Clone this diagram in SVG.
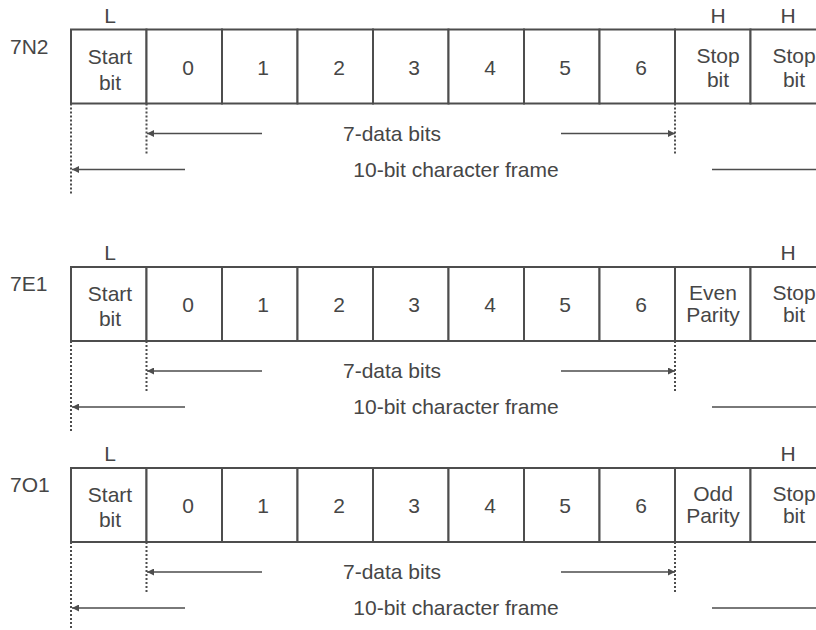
<svg xmlns="http://www.w3.org/2000/svg" width="816" height="630" viewBox="0 0 816 630">
<style>
text{font-family:"Liberation Sans",Arial,sans-serif;font-size:21px;fill:#464646;text-anchor:middle}
.lab{text-anchor:start}
.cell{fill:#fff;stroke:#4d4d4d;stroke-width:2}
.ln{stroke:#4d4d4d;stroke-width:1.5;fill:none}
.dot{stroke:#4d4d4d;stroke-width:2;stroke-dasharray:2 2;fill:none}
</style>
<defs>
<marker id="ah" viewBox="0 0 10 10" refX="10" refY="5" markerWidth="7" markerHeight="7" markerUnits="userSpaceOnUse" orient="auto-start-reverse">
<path d="M0,0 L10,5 L0,10 z" fill="#4d4d4d"/>
</marker>
</defs>
<rect width="816" height="630" fill="#fff"/>

<!-- Frame 7N2 -->
<g id="frame-7N2" transform="translate(0,29.5)">
<text class="lab" x="10" y="24">7N2</text>
<text x="110" y="-7">L</text>
<text x="718" y="-7">H</text>
<text x="788" y="-7">H</text>
<g id="f1-start"><rect class="cell" x="71" y="0" width="75.5" height="74"/><text x="110" y="34">Start</text><text x="110" y="60">bit</text></g>
<g id="f1-b0"><rect class="cell" x="146.5" y="0" width="75.5" height="74"/><text x="188" y="45">0</text></g>
<g id="f1-b1"><rect class="cell" x="222" y="0" width="75.5" height="74"/><text x="263" y="45">1</text></g>
<g id="f1-b2"><rect class="cell" x="297.5" y="0" width="75.5" height="74"/><text x="339" y="45">2</text></g>
<g id="f1-b3"><rect class="cell" x="373" y="0" width="75.5" height="74"/><text x="414" y="45">3</text></g>
<g id="f1-b4"><rect class="cell" x="448.5" y="0" width="75.5" height="74"/><text x="490" y="45">4</text></g>
<g id="f1-b5"><rect class="cell" x="524" y="0" width="75.5" height="74"/><text x="565" y="45">5</text></g>
<g id="f1-b6"><rect class="cell" x="599.5" y="0" width="75.5" height="74"/><text x="641" y="45">6</text></g>
<g id="f1-stop1"><rect class="cell" x="675" y="0" width="75.5" height="74"/><text x="718" y="33">Stop</text><text x="718" y="57">bit</text></g>
<g id="f1-stop2"><rect class="cell" x="750.5" y="0" width="75.5" height="74"/><text x="794" y="33">Stop</text><text x="794" y="57">bit</text></g>
<text x="392" y="111">7-data bits</text>
<text x="456" y="147">10-bit character frame</text>
</g>

<!-- Frame 7E1 -->
<g id="frame-7E1" transform="translate(0,267)">
<text class="lab" x="10" y="24">7E1</text>
<text x="110" y="-7">L</text>
<text x="788" y="-7">H</text>
<g id="f2-start"><rect class="cell" x="71" y="0" width="75.5" height="74"/><text x="110" y="34">Start</text><text x="110" y="59">bit</text></g>
<g id="f2-b0"><rect class="cell" x="146.5" y="0" width="75.5" height="74"/><text x="188" y="45">0</text></g>
<g id="f2-b1"><rect class="cell" x="222" y="0" width="75.5" height="74"/><text x="263" y="45">1</text></g>
<g id="f2-b2"><rect class="cell" x="297.5" y="0" width="75.5" height="74"/><text x="339" y="45">2</text></g>
<g id="f2-b3"><rect class="cell" x="373" y="0" width="75.5" height="74"/><text x="414" y="45">3</text></g>
<g id="f2-b4"><rect class="cell" x="448.5" y="0" width="75.5" height="74"/><text x="490" y="45">4</text></g>
<g id="f2-b5"><rect class="cell" x="524" y="0" width="75.5" height="74"/><text x="565" y="45">5</text></g>
<g id="f2-b6"><rect class="cell" x="599.5" y="0" width="75.5" height="74"/><text x="641" y="45">6</text></g>
<g id="f2-parity"><rect class="cell" x="675" y="0" width="75.5" height="74"/><text x="713" y="33">Even</text><text x="713" y="55">Parity</text></g>
<g id="f2-stop"><rect class="cell" x="750.5" y="0" width="75.5" height="74"/><text x="794" y="33">Stop</text><text x="794" y="55">bit</text></g>
<text x="392" y="111">7-data bits</text>
<text x="456" y="147">10-bit character frame</text>
</g>

<!-- Frame 7O1 -->
<g id="frame-7O1" transform="translate(0,468)">
<text class="lab" x="10" y="24">7O1</text>
<text x="110" y="-7">L</text>
<text x="788" y="-7">H</text>
<g id="f3-start"><rect class="cell" x="71" y="0" width="75.5" height="74"/><text x="110" y="34">Start</text><text x="110" y="59">bit</text></g>
<g id="f3-b0"><rect class="cell" x="146.5" y="0" width="75.5" height="74"/><text x="188" y="45">0</text></g>
<g id="f3-b1"><rect class="cell" x="222" y="0" width="75.5" height="74"/><text x="263" y="45">1</text></g>
<g id="f3-b2"><rect class="cell" x="297.5" y="0" width="75.5" height="74"/><text x="339" y="45">2</text></g>
<g id="f3-b3"><rect class="cell" x="373" y="0" width="75.5" height="74"/><text x="414" y="45">3</text></g>
<g id="f3-b4"><rect class="cell" x="448.5" y="0" width="75.5" height="74"/><text x="490" y="45">4</text></g>
<g id="f3-b5"><rect class="cell" x="524" y="0" width="75.5" height="74"/><text x="565" y="45">5</text></g>
<g id="f3-b6"><rect class="cell" x="599.5" y="0" width="75.5" height="74"/><text x="641" y="45">6</text></g>
<g id="f3-parity"><rect class="cell" x="675" y="0" width="75.5" height="74"/><text x="713" y="33">Odd</text><text x="713" y="55">Parity</text></g>
<g id="f3-stop"><rect class="cell" x="750.5" y="0" width="75.5" height="74"/><text x="794" y="33">Stop</text><text x="794" y="55">bit</text></g>
<text x="392" y="111">7-data bits</text>
<text x="456" y="147">10-bit character frame</text>
</g>

<g id="connectors">
<g transform="translate(0,29.5)">
<line class="dot" x1="71" y1="74" x2="71" y2="164"/>
<line class="dot" x1="146.5" y1="74" x2="146.5" y2="124"/>
<line class="dot" x1="675" y1="74" x2="675" y2="124"/>
<line class="ln" x1="262" y1="104" x2="147" y2="104" marker-end="url(#ah)"/>
<line class="ln" x1="561" y1="104" x2="675" y2="104" marker-end="url(#ah)"/>
<line class="ln" x1="185" y1="140" x2="72" y2="140" marker-end="url(#ah)"/>
<line class="ln" x1="712" y1="140" x2="816" y2="140"/>
</g>
<g transform="translate(0,267)">
<line class="dot" x1="71" y1="74" x2="71" y2="165"/>
<line class="dot" x1="146.5" y1="74" x2="146.5" y2="124"/>
<line class="dot" x1="675" y1="74" x2="675" y2="124"/>
<line class="ln" x1="262" y1="104" x2="147" y2="104" marker-end="url(#ah)"/>
<line class="ln" x1="561" y1="104" x2="675" y2="104" marker-end="url(#ah)"/>
<line class="ln" x1="185" y1="140" x2="72" y2="140" marker-end="url(#ah)"/>
<line class="ln" x1="712" y1="140" x2="816" y2="140"/>
</g>
<g transform="translate(0,468)">
<line class="dot" x1="71" y1="74" x2="71" y2="165"/>
<line class="dot" x1="146.5" y1="74" x2="146.5" y2="124"/>
<line class="dot" x1="675" y1="74" x2="675" y2="124"/>
<line class="ln" x1="262" y1="104" x2="147" y2="104" marker-end="url(#ah)"/>
<line class="ln" x1="561" y1="104" x2="675" y2="104" marker-end="url(#ah)"/>
<line class="ln" x1="185" y1="140" x2="72" y2="140" marker-end="url(#ah)"/>
<line class="ln" x1="712" y1="140" x2="816" y2="140"/>
</g>
</g>
</svg>
